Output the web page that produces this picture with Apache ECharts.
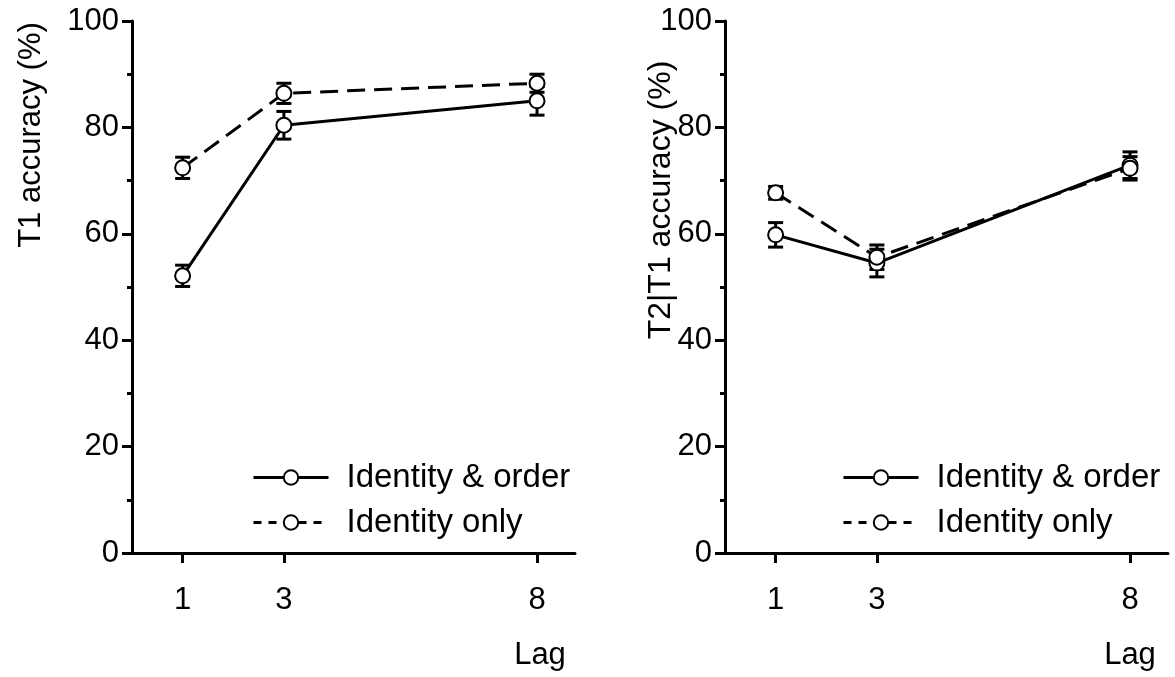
<!DOCTYPE html>
<html>
<head>
<meta charset="utf-8">
<script src="https://cdn.jsdelivr.net/npm/echarts@6/dist/echarts.min.js"></script>
<style>
html,body{margin:0;padding:0;background:#fff;}
#main{width:1175px;height:677px;}
</style>
</head>
<body>
<div id="main"></div>
<script>
// ---- data ----
var lags = [1, 3, 8];
var xTickValues = [1, 3, 8];
var seriesNames = ['Identity & order', 'Identity only'];
var t1IdentityOrder = [52.1, 80.4, 85.0];
var t1IdentityOrderErr = [2.0, 2.6, 2.7];
var t1IdentityOnly = [72.4, 86.4, 88.3];
var t1IdentityOnlyErr = [2.0, 1.9, 1.7];
var t2IdentityOrder = [59.8, 54.5, 72.9];
var t2IdentityOrderErr = [2.3, 2.6, 2.5];
var t2IdentityOnly = [67.7, 55.6, 72.3];
var t2IdentityOnlyErr = [1.2, 2.3, 2.2];
var yLabelLeft = 'T1 accuracy (%)';
var yLabelRight = 'T2|T1 accuracy (%)';
var xLabel = 'Lag';

var FONT = '"Liberation Sans", Arial, sans-serif';
var chart = echarts.init(document.getElementById('main'), null, {renderer: 'canvas'});

function pts(vals) { return lags.map(function (l, i) { return [l, vals[i]]; }); }
function errs(vals, e) { return lags.map(function (l, i) { return [l, vals[i] - e[i], vals[i] + e[i]]; }); }

function errorSeries(idx, vals, e) {
  return {
    type: 'custom', xAxisIndex: idx, yAxisIndex: idx, z: 1, silent: true,
    data: errs(vals, e),
    encode: {x: 0, y: [1, 2]},
    renderItem: function (params, api) {
      var x = api.value(0);
      var lo = api.coord([x, api.value(1)]);
      var hi = api.coord([x, api.value(2)]);
      var hw = 7.5;
      var st = {stroke: '#000', lineWidth: 3, fill: null};
      return {type: 'group', children: [
        {type: 'line', shape: {x1: lo[0], y1: lo[1], x2: hi[0], y2: hi[1]}, style: st},
        {type: 'line', shape: {x1: lo[0] - hw, y1: lo[1], x2: lo[0] + hw, y2: lo[1]}, style: st},
        {type: 'line', shape: {x1: hi[0] - hw, y1: hi[1], x2: hi[0] + hw, y2: hi[1]}, style: st}
      ]};
    }
  };
}

function lineSeries(idx, name, vals, dashed) {
  return {
    type: 'line', name: name, xAxisIndex: idx, yAxisIndex: idx, z: 3,
    data: pts(vals),
    symbol: 'circle', symbolSize: 15,
    itemStyle: {color: '#fff', borderColor: '#000', borderWidth: 2},
    lineStyle: {color: '#000', width: 3, type: dashed ? [18, 9] : 'solid'},
    emphasis: {disabled: true}
  };
}

function xAxisCfg(idx) {
  return {
    type: 'value', gridIndex: idx, min: 0, max: 8.75,
    axisLine: {show: true, onZero: false, lineStyle: {color: '#000', width: 3}},
    axisTick: {show: true, customValues: xTickValues, length: 10, lineStyle: {color: '#000', width: 3}},
    axisLabel: {customValues: xTickValues, margin: 32, fontSize: 31, color: '#000', fontFamily: FONT},
    splitLine: {show: false}
  };
}
function yAxisCfg(idx) {
  return {
    type: 'value', gridIndex: idx, min: 0, max: 100, interval: 20,
    axisLine: {show: true, lineStyle: {color: '#000', width: 3}},
    axisTick: {show: true, length: 10, lineStyle: {color: '#000', width: 3}},
    minorTick: {show: true, splitNumber: 2, length: 5, lineStyle: {color: '#000', width: 3}},
    axisLabel: {margin: 13, fontSize: 31, color: '#000', fontFamily: FONT},
    splitLine: {show: false}, minorSplitLine: {show: false}
  };
}
function legendCfg(left, top) {
  return {
    orient: 'vertical', left: left, top: top, padding: 0,
    data: [
      {name: seriesNames[0], lineStyle: {width: 3, type: 'solid'}},
      {name: seriesNames[1], lineStyle: {width: 3, type: [8, 7]}}
    ],
    itemWidth: 75, itemHeight: 18, itemGap: 8,
    lineStyle: {width: 3},
    textStyle: {fontSize: 33, color: '#000', fontFamily: FONT, padding: [0, 0, 0, 13], lineHeight: 37},
    selectedMode: false
  };
}

chart.setOption({
  animation: false,
  backgroundColor: '#fff',
  grid: [
    {left: 132, top: 21, width: 443, height: 532},
    {left: 725, top: 21, width: 443, height: 532}
  ],
  xAxis: [xAxisCfg(0), xAxisCfg(1)],
  yAxis: [yAxisCfg(0), yAxisCfg(1)],
  legend: [legendCfg(252, 459), legendCfg(842, 459)],
  series: [
    errorSeries(0, t1IdentityOrder, t1IdentityOrderErr),
    errorSeries(0, t1IdentityOnly, t1IdentityOnlyErr),
    errorSeries(1, t2IdentityOrder, t2IdentityOrderErr),
    errorSeries(1, t2IdentityOnly, t2IdentityOnlyErr),
    lineSeries(0, seriesNames[0], t1IdentityOrder, false),
    lineSeries(0, seriesNames[1], t1IdentityOnly, true),
    lineSeries(1, seriesNames[0], t2IdentityOrder, false),
    lineSeries(1, seriesNames[1], t2IdentityOnly, true)
  ],
  graphic: [
    {type: 'text', x: 31, y: 135, rotation: Math.PI / 2,
     style: {text: yLabelLeft, fontSize: 31, fill: '#000', fontFamily: FONT, textAlign: 'center', textVerticalAlign: 'middle'}},
    {type: 'text', x: 661, y: 200, rotation: Math.PI / 2,
     style: {text: yLabelRight, fontSize: 32, fill: '#000', fontFamily: FONT, textAlign: 'center', textVerticalAlign: 'middle'}},
    {type: 'text', x: 540, y: 655,
     style: {text: xLabel, fontSize: 31, fill: '#000', fontFamily: FONT, textAlign: 'center', textVerticalAlign: 'middle'}},
    {type: 'text', x: 1130, y: 655,
     style: {text: xLabel, fontSize: 31, fill: '#000', fontFamily: FONT, textAlign: 'center', textVerticalAlign: 'middle'}}
  ]
});
</script>
</body>
</html>
